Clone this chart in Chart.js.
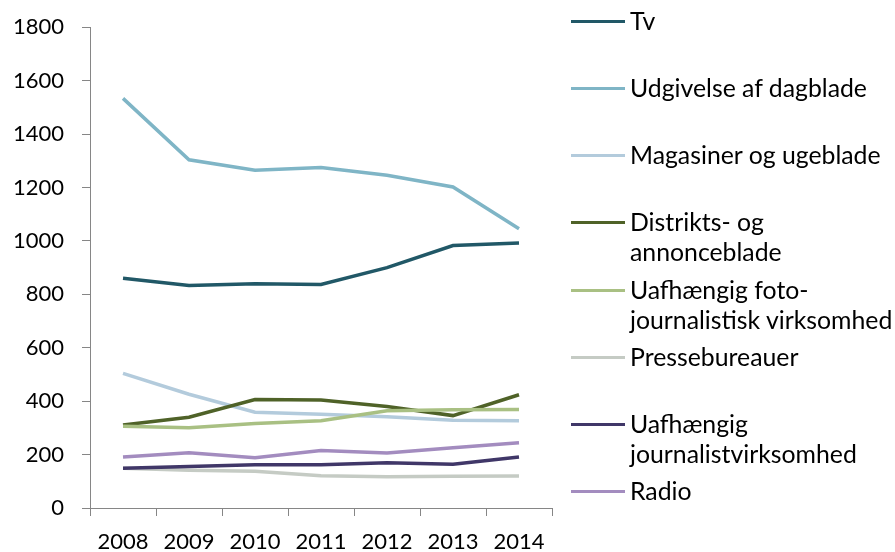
<!DOCTYPE html>
<html>
<head>
<meta charset="utf-8">
<script src="https://cdn.jsdelivr.net/npm/chart.js@4.4.1/dist/chart.umd.min.js"></script>
<style>
  html, body { margin: 0; padding: 0; background: #fff; }
  #wrap { position: relative; width: 895px; height: 552px; }
  #legend { position: absolute; left: 571px; top: 0; font-family: Lato, sans-serif; font-size: 24.8px; color: #000; }
  .item { position: absolute; left: 0; white-space: pre; line-height: 30px; }
  .item span.sw { position: absolute; left: 0; top: 14px; width: 54px; height: 3px; }
  .item span.tx { position: absolute; left: 59px; top: 0; }
</style>
</head>
<body>
<div id="wrap">
  <canvas id="myChart" width="895" height="552" style="display:block"></canvas>
  <div id="legend"></div>
</div>
<script>
const years = ['2008', '2009', '2010', '2011', '2012', '2013', '2014'];

const names = [
  'Tv',
  'Udgivelse af dagblade',
  'Magasiner og ugeblade',
  'Distrikts- og\nannonceblade',
  'Uafhængig foto-\njournalistisk virksomhed',
  'Pressebureauer',
  'Uafhængig\njournalistvirksomhed',
  'Radio'
];

const tv = [860, 833, 840, 837, 900, 983, 992];
const dagblade = [1534, 1304, 1265, 1275, 1246, 1202, 1046];
const magasiner = [504, 426, 359, 351, 342, 329, 327];
const distrikts = [311, 340, 406, 404, 380, 346, 424];
const foto = [306, 301, 316, 327, 364, 368, 369];
const presse = [149, 141, 138, 121, 117, 119, 120];
const journalist = [149, 155, 162, 162, 169, 164, 191];
const radio = [191, 207, 188, 215, 206, 226, 244];

const colors = ['#215867', '#7fb5c6', '#b3cbdc', '#4f6228', '#a9c083', '#c5cbc4', '#403768', '#a38cbf'];
const series = [tv, dagblade, magasiner, distrikts, foto, presse, journalist, radio];

const ctx = document.getElementById('myChart');

new Chart(ctx, {
  type: 'line',
  data: {
    labels: years,
    datasets: series.map((s, i) => ({
      label: names[i],
      data: s,
      borderColor: colors[i],
      backgroundColor: colors[i],
      borderWidth: 3.5,
      pointRadius: 0,
      tension: 0,
      fill: false,
      order: -i
    }))
  },
  options: {
    responsive: false,
    animation: false,
    layout: { padding: { top: 10, right: 343, left: 0, bottom: 0 } },
    plugins: {
      legend: { display: false },
      tooltip: { enabled: false }
    },
    scales: {
      x: {
        offset: true,
        grid: { offset: true, drawOnChartArea: false, drawTicks: true, tickLength: 8, color: '#868686' },
        border: { color: '#868686', width: 1 },
        ticks: { color: '#000', font: { family: 'Lato', size: 22 }, padding: 13, maxRotation: 0 },
        afterFit: (scale) => { scale.height = 44; }
      },
      y: {
        min: 0,
        max: 1800,
        ticks: {
          stepSize: 200,
          color: '#000',
          font: { family: 'Lato', size: 22, lineHeight: 0.85 },
          padding: 18,
          callback: (v) => String(v)
        },
        grid: { drawOnChartArea: false, drawTicks: true, tickLength: 8, color: '#868686' },
        border: { color: '#868686', width: 1 },
        afterFit: (scale) => { scale.width = 90; }
      }
    }
  }
});

// legend on the right, one row per series
const legend = document.getElementById('legend');
names.forEach((n, i) => {
  const item = document.createElement('div');
  item.className = 'item';
  item.style.top = (20.7 + i * 67.2 - 15) + 'px';
  item.innerHTML = '<span class="sw" style="background:' + colors[i] + '"></span><span class="tx"></span>';
  item.querySelector('.tx').textContent = n;
  legend.appendChild(item);
});
</script>
</body>
</html>
